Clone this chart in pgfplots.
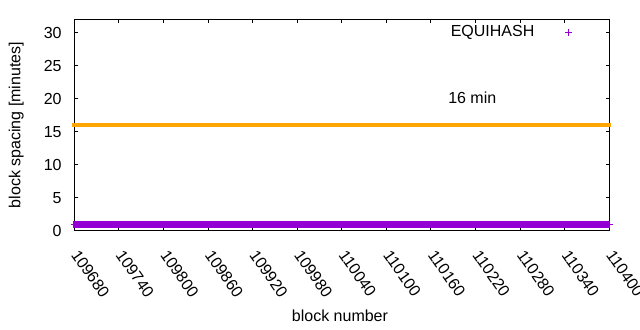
\documentclass[border=0pt]{standalone}
\usepackage{fontspec}
\setmainfont{Liberation Sans}
\usepackage{pgfplots}
\usepackage{pgfplotstable}
\pgfplotsset{compat=1.18}
\definecolor{gpurple}{HTML}{9400D3}
\definecolor{gorange}{HTML}{FFA500}
\pgfplotstableread[row sep=\\]{
x y\\
109680 1\\ 109682 1\\ 109684 1\\ 109686 1\\ 109688 1\\ 109690 1\\ 109692 1\\ 109694 1\\ 109696 1\\ 109698 1\\
109700 1\\ 109702 1\\ 109704 1\\ 109706 1\\ 109708 1\\ 109710 1\\ 109712 1\\ 109714 1\\ 109716 1\\ 109718 1\\
109720 1\\ 109722 1\\ 109724 1\\ 109726 1\\ 109728 1\\ 109730 1\\ 109732 1\\ 109734 1\\ 109736 1\\ 109738 1\\
109740 1\\ 109742 1\\ 109744 1\\ 109746 1\\ 109748 1\\ 109750 1\\ 109752 1\\ 109754 1\\ 109756 1\\ 109758 1\\
109760 1\\ 109762 1\\ 109764 1\\ 109766 1\\ 109768 1\\ 109770 1\\ 109772 1\\ 109774 1\\ 109776 1\\ 109778 1\\
109780 1\\ 109782 1\\ 109784 1\\ 109786 1\\ 109788 1\\ 109790 1\\ 109792 1\\ 109794 1\\ 109796 1\\ 109798 1\\
109800 1\\ 109802 1\\ 109804 1\\ 109806 1\\ 109808 1\\ 109810 1\\ 109812 1\\ 109814 1\\ 109816 1\\ 109818 1\\
109820 1\\ 109822 1\\ 109824 1\\ 109826 1\\ 109828 1\\ 109830 1\\ 109832 1\\ 109834 1\\ 109836 1\\ 109838 1\\
109840 1\\ 109842 1\\ 109844 1\\ 109846 1\\ 109848 1\\ 109850 1\\ 109852 1\\ 109854 1\\ 109856 1\\ 109858 1\\
109860 1\\ 109862 1\\ 109864 1\\ 109866 1\\ 109868 1\\ 109870 1\\ 109872 1\\ 109874 1\\ 109876 1\\ 109878 1\\
109880 1\\ 109882 1\\ 109884 1\\ 109886 1\\ 109888 1\\ 109890 1\\ 109892 1\\ 109894 1\\ 109896 1\\ 109898 1\\
109900 1\\ 109902 1\\ 109904 1\\ 109906 1\\ 109908 1\\ 109910 1\\ 109912 1\\ 109914 1\\ 109916 1\\ 109918 1\\
109920 1\\ 109922 1\\ 109924 1\\ 109926 1\\ 109928 1\\ 109930 1\\ 109932 1\\ 109934 1\\ 109936 1\\ 109938 1\\
109940 1\\ 109942 1\\ 109944 1\\ 109946 1\\ 109948 1\\ 109950 1\\ 109952 1\\ 109954 1\\ 109956 1\\ 109958 1\\
109960 1\\ 109962 1\\ 109964 1\\ 109966 1\\ 109968 1\\ 109970 1\\ 109972 1\\ 109974 1\\ 109976 1\\ 109978 1\\
109980 1\\ 109982 1\\ 109984 1\\ 109986 1\\ 109988 1\\ 109990 1\\ 109992 1\\ 109994 1\\ 109996 1\\ 109998 1\\
110000 1\\ 110002 1\\ 110004 1\\ 110006 1\\ 110008 1\\ 110010 1\\ 110012 1\\ 110014 1\\ 110016 1\\ 110018 1\\
110020 1\\ 110022 1\\ 110024 1\\ 110026 1\\ 110028 1\\ 110030 1\\ 110032 1\\ 110034 1\\ 110036 1\\ 110038 1\\
110040 1\\ 110042 1\\ 110044 1\\ 110046 1\\ 110048 1\\ 110050 1\\ 110052 1\\ 110054 1\\ 110056 1\\ 110058 1\\
110060 1\\ 110062 1\\ 110064 1\\ 110066 1\\ 110068 1\\ 110070 1\\ 110072 1\\ 110074 1\\ 110076 1\\ 110078 1\\
110080 1\\ 110082 1\\ 110084 1\\ 110086 1\\ 110088 1\\ 110090 1\\ 110092 1\\ 110094 1\\ 110096 1\\ 110098 1\\
110100 1\\ 110102 1\\ 110104 1\\ 110106 1\\ 110108 1\\ 110110 1\\ 110112 1\\ 110114 1\\ 110116 1\\ 110118 1\\
110120 1\\ 110122 1\\ 110124 1\\ 110126 1\\ 110128 1\\ 110130 1\\ 110132 1\\ 110134 1\\ 110136 1\\ 110138 1\\
110140 1\\ 110142 1\\ 110144 1\\ 110146 1\\ 110148 1\\ 110150 1\\ 110152 1\\ 110154 1\\ 110156 1\\ 110158 1\\
110160 1\\ 110162 1\\ 110164 1\\ 110166 1\\ 110168 1\\ 110170 1\\ 110172 1\\ 110174 1\\ 110176 1\\ 110178 1\\
110180 1\\ 110182 1\\ 110184 1\\ 110186 1\\ 110188 1\\ 110190 1\\ 110192 1\\ 110194 1\\ 110196 1\\ 110198 1\\
110200 1\\ 110202 1\\ 110204 1\\ 110206 1\\ 110208 1\\ 110210 1\\ 110212 1\\ 110214 1\\ 110216 1\\ 110218 1\\
110220 1\\ 110222 1\\ 110224 1\\ 110226 1\\ 110228 1\\ 110230 1\\ 110232 1\\ 110234 1\\ 110236 1\\ 110238 1\\
110240 1\\ 110242 1\\ 110244 1\\ 110246 1\\ 110248 1\\ 110250 1\\ 110252 1\\ 110254 1\\ 110256 1\\ 110258 1\\
110260 1\\ 110262 1\\ 110264 1\\ 110266 1\\ 110268 1\\ 110270 1\\ 110272 1\\ 110274 1\\ 110276 1\\ 110278 1\\
110280 1\\ 110282 1\\ 110284 1\\ 110286 1\\ 110288 1\\ 110290 1\\ 110292 1\\ 110294 1\\ 110296 1\\ 110298 1\\
110300 1\\ 110302 1\\ 110304 1\\ 110306 1\\ 110308 1\\ 110310 1\\ 110312 1\\ 110314 1\\ 110316 1\\ 110318 1\\
110320 1\\ 110322 1\\ 110324 1\\ 110326 1\\ 110328 1\\ 110330 1\\ 110332 1\\ 110334 1\\ 110336 1\\ 110338 1\\
110340 1\\ 110342 1\\ 110344 1\\ 110346 1\\ 110348 1\\ 110350 1\\ 110352 1\\ 110354 1\\ 110356 1\\ 110358 1\\
110360 1\\ 110362 1\\ 110364 1\\ 110366 1\\ 110368 1\\ 110370 1\\ 110372 1\\ 110374 1\\ 110376 1\\ 110378 1\\
110380 1\\ 110382 1\\ 110384 1\\ 110386 1\\ 110388 1\\ 110390 1\\ 110392 1\\ 110394 1\\ 110396 1\\ 110398 1\\
110400 1\\
}\equihash
\begin{document}
\fontsize{16bp}{19bp}\selectfont
\begin{tikzpicture}
\useasboundingbox (0,0) rectangle (640bp,330bp);
\begin{axis}[
  at={(74.3bp,99bp)}, anchor=south west,
  scale only axis, width=535bp, height=211.7bp,
  xmin=109680, xmax=110400, ymin=0, ymax=32,
  xtick={109680,109740,109800,109860,109920,109980,110040,110100,110160,110220,110280,110340,110400},
  ytick={0,5,10,15,20,25,30},
  scaled x ticks=false,
  /pgf/number format/assume math mode=true,
  /pgf/number format/1000 sep={},
  /pgf/number format/fixed,
  /pgf/number format/precision=0,
  tick align=inside,
  major tick length=3.5bp,
  axis line style={line width=1bp, black},
  every tick/.style={black, line width=1bp},
  clip=false,
  xticklabel style={xshift=0.7bp, yshift=-20.8bp, rotate=-55, anchor=west, inner sep=0pt},
  yticklabel style={anchor=east, inner sep=0pt, xshift=-12.5bp},
  xlabel={block number},
  ylabel={block spacing [minutes]},
  xlabel style={at={(axis description cs:0.4966,-0.4275)}, anchor=base, inner sep=0pt},
  ylabel style={at={(axis description cs:-0.1006,0.5)}, anchor=base, inner sep=0pt},
  legend plot pos=right,
  legend style={draw=none, fill=none, inner sep=0pt, outer sep=0pt,
    nodes={inner sep=0pt}, column sep=0pt,
    at={(axis description cs:0.9377,0.940)}, anchor=east},
  legend image code/.code={\path (0bp,0bp) (40bp,0bp); \draw[#1, gpurple, line width=1bp, mark size=3.5bp] plot coordinates {(33.5bp,-0.8bp)};},
]
\addplot[only marks, mark=+, color=gpurple, mark size=3.5bp, line width=1.6bp] table[x=x,y=y] {\equihash};
\addlegendentry{EQUIHASH}
\addplot[forget plot, color=gorange, line width=4bp, line cap=rect] coordinates {(109680,16) (110400,16)};
\node[anchor=base west, inner sep=0pt] at (axis cs:110183,19.2) {16 min};
\end{axis}
\end{tikzpicture}
\end{document}
